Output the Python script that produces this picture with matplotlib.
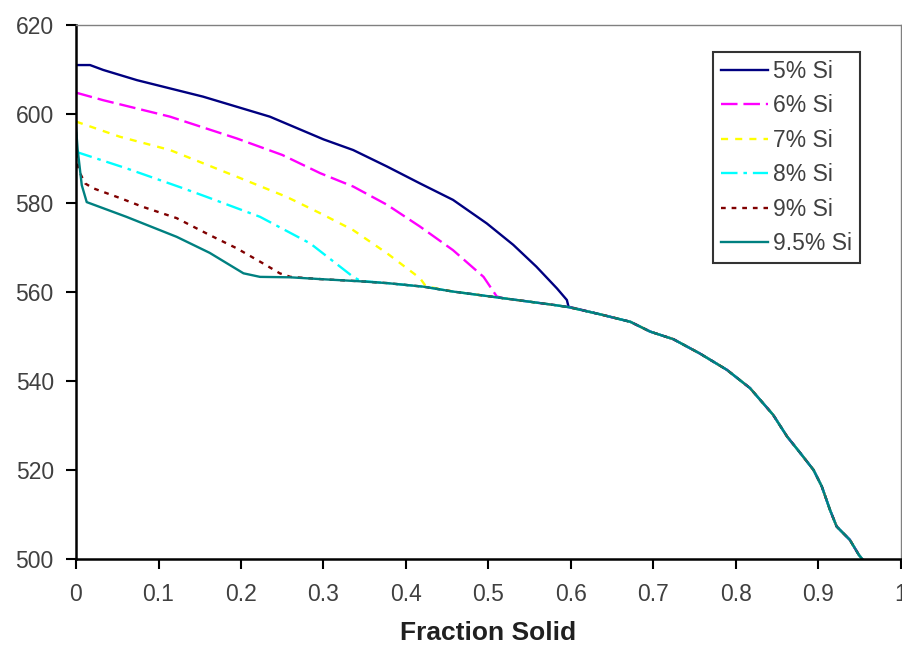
import matplotlib
matplotlib.use("Agg")
import matplotlib.pyplot as plt
import numpy as np

plt.rcParams['font.family'] = ['Liberation Sans', 'DejaVu Sans']

# shared solidification path (all alloys merge onto it)
tail_x = [0.223, 0.26, 0.296, 0.345, 0.377, 0.421, 0.457, 0.51, 0.518, 0.579, 0.597,
          0.635, 0.672, 0.696, 0.724, 0.756, 0.789, 0.817, 0.845, 0.862, 0.878, 0.894,
          0.904, 0.914, 0.922, 0.938, 0.949, 0.953]
tail_y = [563.4, 563.3, 562.9, 562.4, 562.0, 561.2, 560.1, 558.8, 558.6, 557.1, 556.6,
          555.0, 553.3, 551.1, 549.4, 546.2, 542.5, 538.4, 532.4, 527.5, 523.8, 520.0,
          516.3, 511.0, 507.3, 504.3, 500.9, 500.0]

# early parts of each curve (before joining the shared path)
si5_x = [0.0, 0.017, 0.033, 0.074, 0.154, 0.235, 0.300, 0.336, 0.377, 0.417, 0.457,
         0.498, 0.530, 0.558, 0.583, 0.595, 0.597]
si5_y = [611.0, 611.0, 609.9, 607.6, 603.9, 599.4, 594.3, 591.9, 588.2, 584.4, 580.7,
         575.4, 570.6, 565.7, 560.8, 558.2, 556.7]
si6_x = [0.0, 0.033, 0.114, 0.195, 0.250, 0.296, 0.336, 0.377, 0.417, 0.457, 0.494, 0.510]
si6_y = [604.8, 603.1, 599.4, 594.5, 590.8, 586.7, 583.7, 579.6, 574.7, 569.4, 563.4, 559.0]
si7_x = [0.0, 0.053, 0.114, 0.195, 0.255, 0.296, 0.336, 0.377, 0.417, 0.424]
si7_y = [598.3, 594.9, 591.9, 585.9, 581.4, 577.7, 573.9, 568.7, 563.1, 561.3]
si8_x = [0.0, 0.005, 0.061, 0.130, 0.158, 0.223, 0.284, 0.336, 0.345]
si8_y = [591.5, 591.2, 587.8, 583.3, 581.4, 576.9, 570.9, 563.4, 562.5]
si9_x = [0.0, 0.002, 0.005, 0.011, 0.021, 0.055, 0.080, 0.122, 0.142, 0.162, 0.195,
         0.227, 0.247, 0.260]
si9_y = [596.0, 588.5, 586.7, 584.4, 583.3, 581.0, 579.2, 576.6, 574.7, 572.8, 569.8,
         566.4, 564.2, 563.4]
si95_x = [0.0, 0.002, 0.007, 0.013, 0.061, 0.122, 0.162, 0.203, 0.223]
si95_y = [597.0, 592.0, 584.0, 580.2, 576.9, 572.4, 568.8, 564.2, 563.4]

labels = ['5% Si', '6% Si', '7% Si', '8% Si', '9% Si', '9.5% Si']
colors = ['#000080', '#FF00FF', '#FFFF00', '#00FFFF', '#800000', '#008080']
dashes = [None, (7, 2.5), (3, 3), (7, 2.5, 1.5, 2.5), (2, 2.5), None]

x_ticks = [0, 0.1, 0.2, 0.3, 0.4, 0.5, 0.6, 0.7, 0.8, 0.9, 1.0]
x_tick_labels = ['0', '0.1', '0.2', '0.3', '0.4', '0.5', '0.6', '0.7', '0.8', '0.9', '1']
y_ticks = [500, 520, 540, 560, 580, 600, 620]

fig = plt.figure(figsize=(9.03, 6.45), dpi=100)
ax = fig.add_axes([76 / 903, 1 - 559 / 645, 825 / 903, 534 / 645])

series = [(si5_x, si5_y), (si6_x, si6_y), (si7_x, si7_y), (si8_x, si8_y),
          (si9_x, si9_y), (si95_x, si95_y)]
for (sx, sy), lab, col, ds in zip(series, labels, colors, dashes):
    xs = list(sx) + [x for x in tail_x if x > sx[-1]]
    ys = list(sy) + [y for x, y in zip(tail_x, tail_y) if x > sx[-1]]
    line, = ax.plot(xs, ys, color=col, lw=1.7, label=lab)
    if ds is not None:
        line.set_dashes(ds)

ax.set_xlim(0, 1)
ax.set_ylim(500, 620)
ax.set_xticks(x_ticks)
ax.set_xticklabels(x_tick_labels)
ax.set_yticks(y_ticks)
ax.tick_params(axis='both', direction='out', length=7, width=1.5, colors='black',
               labelcolor='#404040', labelsize=16.5)
ax.tick_params(axis='x', pad=10)
ax.tick_params(axis='y', pad=9)
for s in ['left', 'bottom']:
    ax.spines[s].set_linewidth(1.8)
    ax.spines[s].set_color('black')
for s in ['top', 'right']:
    ax.spines[s].set_linewidth(1.0)
    ax.spines[s].set_color('#808080')

ax.set_xlabel('Fraction Solid', fontsize=19, fontweight='bold', color='#202020', labelpad=11)

leg = ax.legend(loc='upper left', bbox_to_anchor=(713 / 903, 1 - 52 / 645),
                bbox_transform=fig.transFigure, frameon=True, fancybox=False,
                fontsize=16.5, handlelength=2.05, handletextpad=0.2, labelspacing=0.5,
                borderpad=0.35, borderaxespad=0)
leg.get_frame().set_edgecolor('black')
leg.get_frame().set_linewidth(1.5)
for t in leg.get_texts():
    t.set_color('#404040')

fig.savefig('out.png', dpi=100)
